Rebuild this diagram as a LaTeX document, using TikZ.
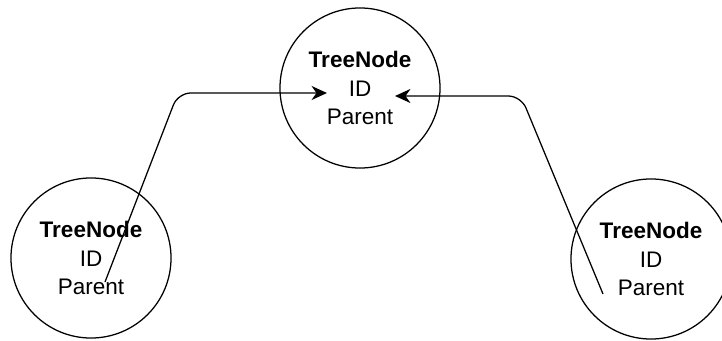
\documentclass[tikz,border=0pt]{standalone}
\usepackage{fontspec}
\setmainfont{Liberation Sans}
\usepackage{tikz}
\usetikzlibrary{calc}
\usetikzlibrary{shapes,arrows.meta}

\begin{document}
\begin{tikzpicture}[x=0.025cm,y=-0.025cm]
				\tikzset{treenode/.style={circle, draw, line width=0.9pt, minimum size=4cm, align=center, font=\fontsize{16}{20.5}\selectfont},
					ptr/.style={-{Stealth[length=11pt,width=10pt,inset=3.5pt]}, line width=0.9pt, rounded corners=9pt}}
				\useasboundingbox (0,0) rectangle (722,341);
				
				\node[treenode] (Root)  at (360,88)  {\textbf{TreeNode}\\ID\\Parent};
				\node[treenode] (Left)  at (91,258)  {\textbf{TreeNode}\\ID\\Parent};
				\node[treenode] (Right) at (651,259) {\textbf{TreeNode}\\ID\\Parent};
				
				\coordinate (LeftTail)  at ($(Left)+(14,24)$);
				\coordinate (LeftBend)  at (178,93);
				\coordinate (RootWest)  at ($(Root)+(-33,5)$);
				\coordinate (RightTail) at ($(Right)+(-48,35)$);
				\coordinate (RightBend) at (521,96);
				\coordinate (RootEast)  at ($(Root)+(35,8)$);
				
				\draw [ptr] (LeftTail) -- (LeftBend) -- (RootWest);% parent of left node
				\draw [ptr] (RightTail) -- (RightBend) -- (RootEast);% parent of right node
\end{tikzpicture}
\end{document}
